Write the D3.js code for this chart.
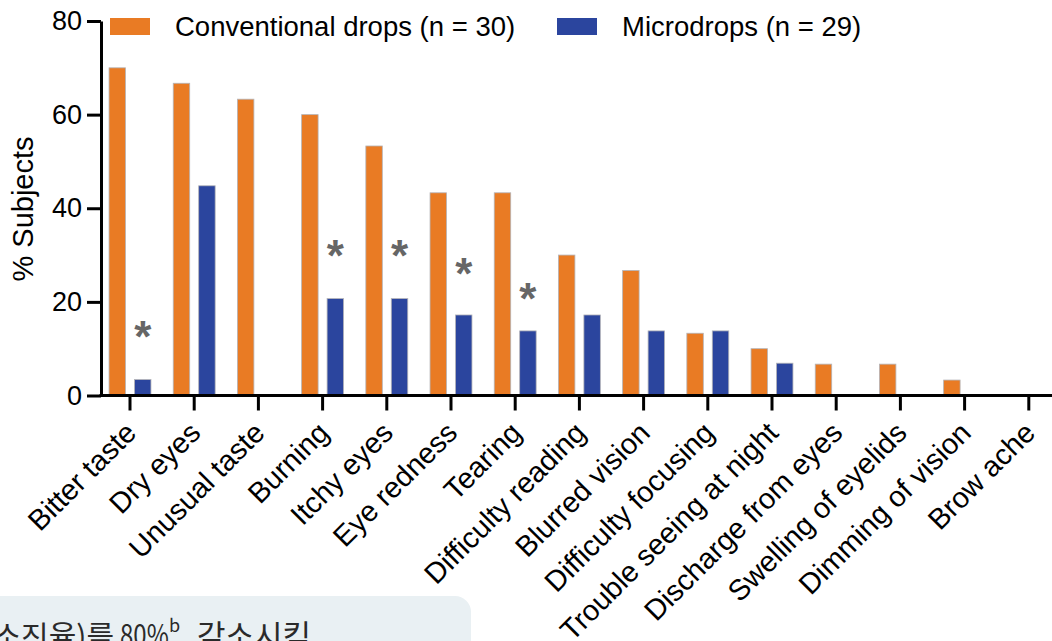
<!DOCTYPE html>
<html>
<head>
<meta charset="utf-8">
<script src="https://cdn.jsdelivr.net/npm/d3@7/dist/d3.min.js"></script>
<style>
  html, body { margin: 0; padding: 0; background: #fff; }
  svg { display: block; }
  text { font-family: "Liberation Sans", Arial, Helvetica, sans-serif; fill: #000; }
</style>
</head>
<body>
<svg id="chart" width="1052" height="641"></svg>
<script>
// Symptom categories (x axis)
const categories = [
  "Bitter taste", "Dry eyes", "Unusual taste", "Burning", "Itchy eyes",
  "Eye redness", "Tearing", "Difficulty reading", "Blurred vision",
  "Difficulty focusing", "Trouble seeing at night", "Discharge from eyes",
  "Swelling of eyelids", "Dimming of vision", "Brow ache"
];

// % of subjects reporting each symptom
const conventionalDrops = [70.0, 66.7, 63.3, 60.0, 53.3, 43.3, 43.3, 30.0, 26.7, 13.3, 10.0, 6.7, 6.7, 3.3, 0];
const microdrops        = [3.4, 44.8, 0, 20.7, 20.7, 17.2, 13.8, 17.2, 13.8, 13.8, 6.9, 0, 0, 0, 0];

// Series names shown in the legend
const seriesNames = ["Conventional drops (n = 30)", "Microdrops (n = 29)"];

// Significance markers: category and the level (in %) where the star sits
const sigCategories = ["Bitter taste", "Burning", "Itchy eyes", "Eye redness", "Tearing"];
const sigLevels     = [13.9, 31.4, 31.4, 27.4, 22.2];

// Y axis ticks
const yTicks = [0, 20, 40, 60, 80];

const colors = ["#E97B24", "#2B459E"];

const svg = d3.select("#chart");

// Scales
const step = 64.2;
const x0 = d3.scaleBand()
  .domain(categories)
  .range([130 - step / 2, 130 - step / 2 + step * categories.length])
  .paddingInner(0.347)
  .paddingOuter(0.347 / 2);

const x1 = d3.scaleBand()
  .domain([0, 1])
  .range([0, x0.bandwidth()])
  .paddingInner(0.353);

const y = d3.scaleLinear().domain([0, 80]).range([395.5, 21]);

// Bars
const rows = categories.map((c, i) => ({ c, v: [conventionalDrops[i], microdrops[i]] }));
const groups = svg.append("g").selectAll("g")
  .data(rows).join("g")
  .attr("transform", d => `translate(${x0(d.c)},0)`);

groups.selectAll("rect")
  .data(d => d.v.map((v, k) => ({ v, k })))
  .join("rect")
  .filter(d => d.v > 0)
  .attr("x", d => x1(d.k))
  .attr("width", x1.bandwidth())
  .attr("y", d => y(d.v))
  .attr("height", d => y(0) - y(d.v))
  .attr("fill", d => colors[d.k])
  .attr("stroke", "#b4b4b8")
  .attr("stroke-width", 0.8);

// Significance stars above the microdrops bars
svg.append("g").selectAll("text")
  .data(sigCategories.map((c, i) => ({ c, lvl: sigLevels[i] })))
  .join("text")
  .attr("x", d => x0(d.c) + x1(1) + x1.bandwidth() / 2)
  .attr("y", d => y(d.lvl))
  .attr("dy", "0.5em")
  .attr("text-anchor", "middle")
  .style("font-size", "44px")
  .style("font-weight", "bold")
  .style("fill", "#666")
  .text("*");

// Y axis
const yAxis = svg.append("g")
  .attr("transform", "translate(101,0)")
  .call(d3.axisLeft(y).tickValues(yTicks).tickSize(14).tickSizeOuter(0).tickPadding(5));
yAxis.select(".domain").attr("stroke", "#000").attr("stroke-width", 3);
yAxis.selectAll(".tick line").attr("stroke", "#000").attr("stroke-width", 3);
yAxis.selectAll(".tick text")
  .style("font-size", "27px")
  .style("font-family", "'Liberation Sans', Arial, sans-serif")
  .attr("fill", "#000");

// X axis
const xAxis = svg.append("g")
  .attr("transform", `translate(0,${y(0)})`)
  .call(d3.axisBottom(x0).tickSize(15).tickSizeOuter(0).tickPadding(0));
xAxis.select(".domain").remove();
xAxis.selectAll(".tick line").attr("stroke", "#000").attr("stroke-width", 3);
xAxis.selectAll(".tick text")
  .style("font-size", "29px")
  .style("font-family", "'Liberation Sans', Arial, sans-serif")
  .attr("fill", "#000")
  .attr("text-anchor", "end")
  .attr("dy", null)
  .attr("y", null)
  .attr("transform", "translate(8,39) rotate(-45)");

svg.append("line")
  .attr("x1", 99.5).attr("x2", 1052)
  .attr("y1", y(0)).attr("y2", y(0))
  .attr("stroke", "#000").attr("stroke-width", 3);

// Y axis title
svg.append("text")
  .attr("transform", "translate(33,209) rotate(-90)")
  .attr("text-anchor", "middle")
  .style("font-size", "29px")
  .text("% Subjects");

// Legend
const legendX = [110, 557];
const legend = svg.append("g");
seriesNames.forEach((name, k) => {
  legend.append("rect")
    .attr("x", legendX[k]).attr("y", 18)
    .attr("width", 40).attr("height", 17)
    .attr("fill", colors[k]);
  legend.append("text")
    .attr("x", legendX[k] + 65).attr("y", 36)
    .style("font-size", "27.5px")
    .text(name);
});

// Caption panel at the lower left
const note = svg.append("g");
note.append("rect")
  .attr("x", -30).attr("y", 596)
  .attr("width", 501).attr("height", 90)
  .attr("rx", 16)
  .attr("fill", "#e9f0f3");
const noteStyle = sel => sel
  .style("font-family", "'Noto Sans CJK KR', sans-serif")
  .style("fill", "#2a2a2a");
note.append("text").call(noteStyle)
  .attr("x", 114).attr("y", 647).attr("text-anchor", "end")
  .style("font-size", "30px")
  .text("소진율)를");
note.append("text").call(noteStyle)
  .attr("transform", "translate(120,646) scale(0.8,1)")
  .style("font-size", "30px")
  .text("80%");
note.append("text").call(noteStyle)
  .attr("x", 169).attr("y", 632)
  .style("font-size", "18px")
  .text("b");
note.append("text").call(noteStyle)
  .attr("x", 197).attr("y", 647)
  .style("font-size", "31px")
  .text("감소시킴");
</script>
</body>
</html>
